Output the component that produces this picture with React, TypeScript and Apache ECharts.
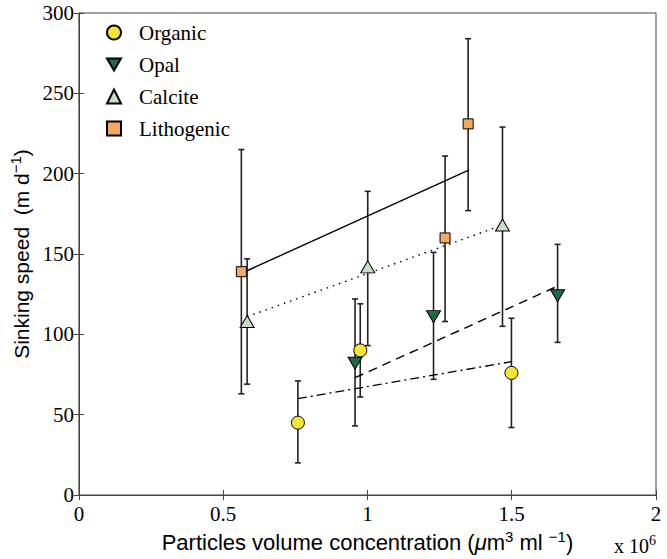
import React, { useEffect, useRef } from "react";
import * as echarts from "echarts";

// Data (x in units of 10^6 µm^3 ml^-1, y in m d^-1)
const organicX = [0.759, 0.975, 1.499];
const organicY = [45, 90, 76];
const organicLow = [20, 61, 42];
const organicHigh = [71, 119, 110];

const opalX = [0.957, 1.229, 1.659];
const opalY = [82, 111, 124];
const opalLow = [43, 72, 95];
const opalHigh = [122, 151, 156];

const calciteX = [0.583, 1.001, 1.468];
const calciteY = [108, 142, 168];
const calciteLow = [69, 93, 105];
const calciteHigh = [147, 189, 229];

const lithoX = [0.563, 1.269, 1.349];
const lithoY = [139, 160, 231];
const lithoLow = [63, 108, 177];
const lithoHigh = [215, 211, 284];

// Fitted regression line end points
const organicFitX = [0.759, 1.499];
const organicFitY = [60, 83];
const opalFitX = [0.957, 1.659];
const opalFitY = [73, 130];
const calciteFitX = [0.583, 1.468];
const calciteFitY = [111, 168];
const lithoFitX = [0.563, 1.349];
const lithoFitY = [138, 202];

const SERIF = "'Liberation Serif', 'DejaVu Serif', serif";
const SANS = "'Liberation Sans', Arial, sans-serif";
const DOWN_TRI = "path://M0,0 L10,0 L5,8.66 Z";

const zip = (xs: number[], ys: number[]) => xs.map((x, i) => [x, ys[i]]);
const zip3 = (xs: number[], a: number[], b: number[]) => xs.map((x, i) => [x, a[i], b[i]]);

function errorSeries(name: string, xs: number[], lo: number[], hi: number[]) {
  return {
    type: "custom",
    name,
    z: 2,
    silent: true,
    data: zip3(xs, lo, hi),
    encode: { x: 0, y: [1, 2] },
    renderItem: (params: any, api: any) => {
      const x = api.value(0);
      const pLo = api.coord([x, api.value(1)]);
      const pHi = api.coord([x, api.value(2)]);
      const w = 3;
      const st = { stroke: "#222", lineWidth: 1.6 };
      return {
        type: "group",
        children: [
          { type: "line", shape: { x1: pLo[0], y1: pLo[1], x2: pHi[0], y2: pHi[1] }, style: st },
          { type: "line", shape: { x1: pLo[0] - w, y1: pLo[1], x2: pLo[0] + w, y2: pLo[1] }, style: st },
          { type: "line", shape: { x1: pHi[0] - w, y1: pHi[1], x2: pHi[0] + w, y2: pHi[1] }, style: st },
        ],
      };
    },
  };
}

function fitSeries(name: string, xs: number[], ys: number[], type: any) {
  return {
    type: "line",
    name,
    z: 3,
    silent: true,
    symbol: "none",
    data: zip(xs, ys),
    lineStyle: { color: "#000", width: 1.4, type },
  };
}

function scatterSeries(name: string, xs: number[], ys: number[], symbol: string, size: any, color: string) {
  return {
    type: "scatter",
    name,
    z: 5,
    symbol,
    symbolSize: size,
    data: zip(xs, ys),
    itemStyle: { color, borderColor: "#000", borderWidth: 1, opacity: 1 },
  };
}

export default function App() {
  const ref = useRef<HTMLDivElement>(null);
  useEffect(() => {
    if (!ref.current) return;
    const chart = echarts.init(ref.current, undefined, { renderer: "svg" });
    const axisLine = { show: true, lineStyle: { color: "#444", width: 1 } };
    const axisTick = { show: true, inside: true, length: 5, lineStyle: { color: "#444" } };
    chart.setOption({
      animation: false,
      backgroundColor: "#fff",
      grid: { left: 77, right: 11, top: 13, bottom: 64, show: true, borderColor: "#444", borderWidth: 1 },
      legend: {
        orient: "vertical",
        left: 101,
        top: 17,
        itemWidth: 14,
        itemHeight: 14,
        itemGap: 11,
        data: ["Organic", "Opal", "Calcite", "Lithogenic"],
        textStyle: { fontFamily: SERIF, fontSize: 21, color: "#000", padding: [0, 0, 0, 13], lineHeight: 19 },
        selectedMode: false,
      },
      xAxis: [
        {
          type: "value",
          min: 0,
          max: 2,
          interval: 0.5,
          axisLine,
          axisTick,
          splitLine: { show: false },
          axisLabel: { fontFamily: SERIF, fontSize: 21, color: "#000", margin: 8, formatter: (v: number) => String(v) },
          name: "Particles volume concentration ({it|μ}m{sup|3} ml {sup|−1})",
          nameLocation: "middle",
          nameGap: 34,
          nameTextStyle: {
            fontFamily: SANS,
            fontSize: 22,
            color: "#000",
            rich: {
              it: { fontFamily: SANS, fontSize: 22, fontStyle: "italic", color: "#000" },
              sup: { fontFamily: SANS, fontSize: 15, color: "#000", verticalAlign: "bottom", padding: [0, 0, 11, 0] },
            },
          },
        },
        {
          type: "value",
          position: "top",
          min: 0,
          max: 2,
          interval: 0.5,
          axisLine,
          axisTick,
          axisLabel: { show: false },
          splitLine: { show: false },
        },
      ],
      yAxis: [
        {
          type: "value",
          min: 0,
          max: 300,
          interval: 50,
          axisLine,
          axisTick,
          splitLine: { show: false },
          axisLabel: { fontFamily: SERIF, fontSize: 21, color: "#000", margin: 5 },
          name: "Sinking speed  (m d{sup|−1})",
          nameLocation: "middle",
          nameGap: 44,
          nameRotate: 90,
          nameTextStyle: {
            fontFamily: SANS,
            fontSize: 21,
            color: "#000",
            rich: {
              sup: { fontFamily: SANS, fontSize: 15, color: "#000", verticalAlign: "bottom", padding: [0, 0, 11, 0] },
            },
          },
        },
        {
          type: "value",
          position: "right",
          min: 0,
          max: 300,
          interval: 50,
          axisLine,
          axisTick,
          axisLabel: { show: false },
          splitLine: { show: false },
        },
      ],
      graphic: [
        {
          type: "text",
          right: 11,
          bottom: 3,
          style: {
            text: "x 10{s|6}",
            fontFamily: SERIF,
            fontSize: 20,
            fill: "#000",
            rich: { s: { fontFamily: SERIF, fontSize: 14, verticalAlign: "bottom", padding: [0, 0, 12, 0] } },
          },
        },
      ],
      series: [
        errorSeries("Organic err", organicX, organicLow, organicHigh),
        errorSeries("Opal err", opalX, opalLow, opalHigh),
        errorSeries("Calcite err", calciteX, calciteLow, calciteHigh),
        errorSeries("Lithogenic err", lithoX, lithoLow, lithoHigh),
        fitSeries("Organic fit", organicFitX, organicFitY, [9, 4, 2, 4]),
        fitSeries("Opal fit", opalFitX, opalFitY, [9, 6]),
        fitSeries("Calcite fit", calciteFitX, calciteFitY, [1.5, 5]),
        fitSeries("Lithogenic fit", lithoFitX, lithoFitY, "solid"),
        scatterSeries("Organic", organicX, organicY, "circle", 13, "#f5e431"),
        scatterSeries("Opal", opalX, opalY, DOWN_TRI, [14, 12], "#1e6b47"),
        scatterSeries("Calcite", calciteX, calciteY, "triangle", [14, 12], "#c8dcca"),
        scatterSeries("Lithogenic", lithoX, lithoY, "rect", 10, "#f5a862"),
      ],
    });
    return () => chart.dispose();
  }, []);
  return <div ref={ref} style={{ width: 667, height: 559, position: "absolute", left: 0, top: 0 }} />;
}
